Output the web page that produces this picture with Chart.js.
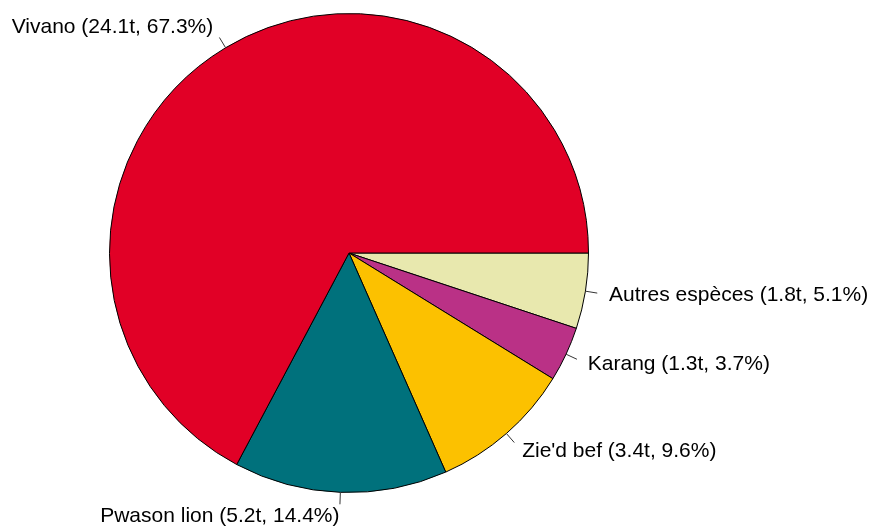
<!DOCTYPE html>
<html>
<head>
<meta charset="utf-8">
<script src="https://cdn.jsdelivr.net/npm/chart.js@4/dist/chart.umd.min.js"></script>
<style>
html,body{margin:0;padding:0;background:#fff;}
#wrap{width:875px;height:528px;position:relative;}
</style>
</head>
<body>
<div id="wrap"><canvas id="c" width="875" height="528"></canvas></div>
<script>
// Data (R pie order, counterclockwise from 3 o'clock)
const categories = ["Vivano", "Pwason lion", "Zie'd bef", "Karang", "Autres espèces"];
const tonnes = [24.1, 5.2, 3.4, 1.3, 1.8];
const percents = [67.3, 14.4, 9.6, 3.7, 5.1];
const colors = ["#E10026", "#00717C", "#FCC100", "#BA3186", "#E8E8AE"];

// Chart.js draws clockwise: reverse to mimic counterclockwise R pie
const labelsRev = categories.slice().reverse();
const valuesRev = percents.slice().reverse();
const tonnesRev = tonnes.slice().reverse();
const colorsRev = colors.slice().reverse();
const textRev = labelsRev.map((c, i) => c + " (" + tonnesRev[i].toFixed(1) + "t, " + valuesRev[i].toFixed(1) + "%)");

const labelPlugin = {
  id: 'pieLabels',
  afterDatasetsDraw(chart) {
    const ctx = chart.ctx;
    const meta = chart.getDatasetMeta(0);
    ctx.save();
    ctx.font = '21px "Liberation Sans", Arial, sans-serif';
    ctx.fillStyle = '#000';
    ctx.strokeStyle = '#333';
    ctx.lineWidth = 1;
    meta.data.forEach((arc, i) => {
      const p = arc.getProps(['x', 'y', 'startAngle', 'endAngle', 'outerRadius'], true);
      const mid = (p.startAngle + p.endAngle) / 2;
      const r = p.outerRadius;
      const c = Math.cos(mid), s = Math.sin(mid);
      ctx.beginPath();
      ctx.moveTo(p.x + c * r, p.y + s * r);
      ctx.lineTo(p.x + c * r * 1.05, p.y + s * r * 1.05);
      ctx.stroke();
      ctx.textAlign = c > 0 ? 'left' : 'right';
      ctx.textBaseline = 'middle';
      ctx.fillText(textRev[i], p.x + c * r * 1.1, p.y + s * r * 1.1);
    });
    ctx.restore();
  }
};

new Chart(document.getElementById('c'), {
  type: 'pie',
  data: {
    labels: labelsRev,
    datasets: [{
      data: valuesRev,
      backgroundColor: colorsRev,
      borderColor: '#000',
      borderWidth: 1,
      hoverOffset: 0
    }]
  },
  options: {
    responsive: false,
    animation: false,
    rotation: 90,
    layout: { padding: { left: 109, right: 286, top: 13, bottom: 35 } },
    plugins: { legend: { display: false }, tooltip: { enabled: false } }
  },
  plugins: [labelPlugin]
});
</script>
</body>
</html>
